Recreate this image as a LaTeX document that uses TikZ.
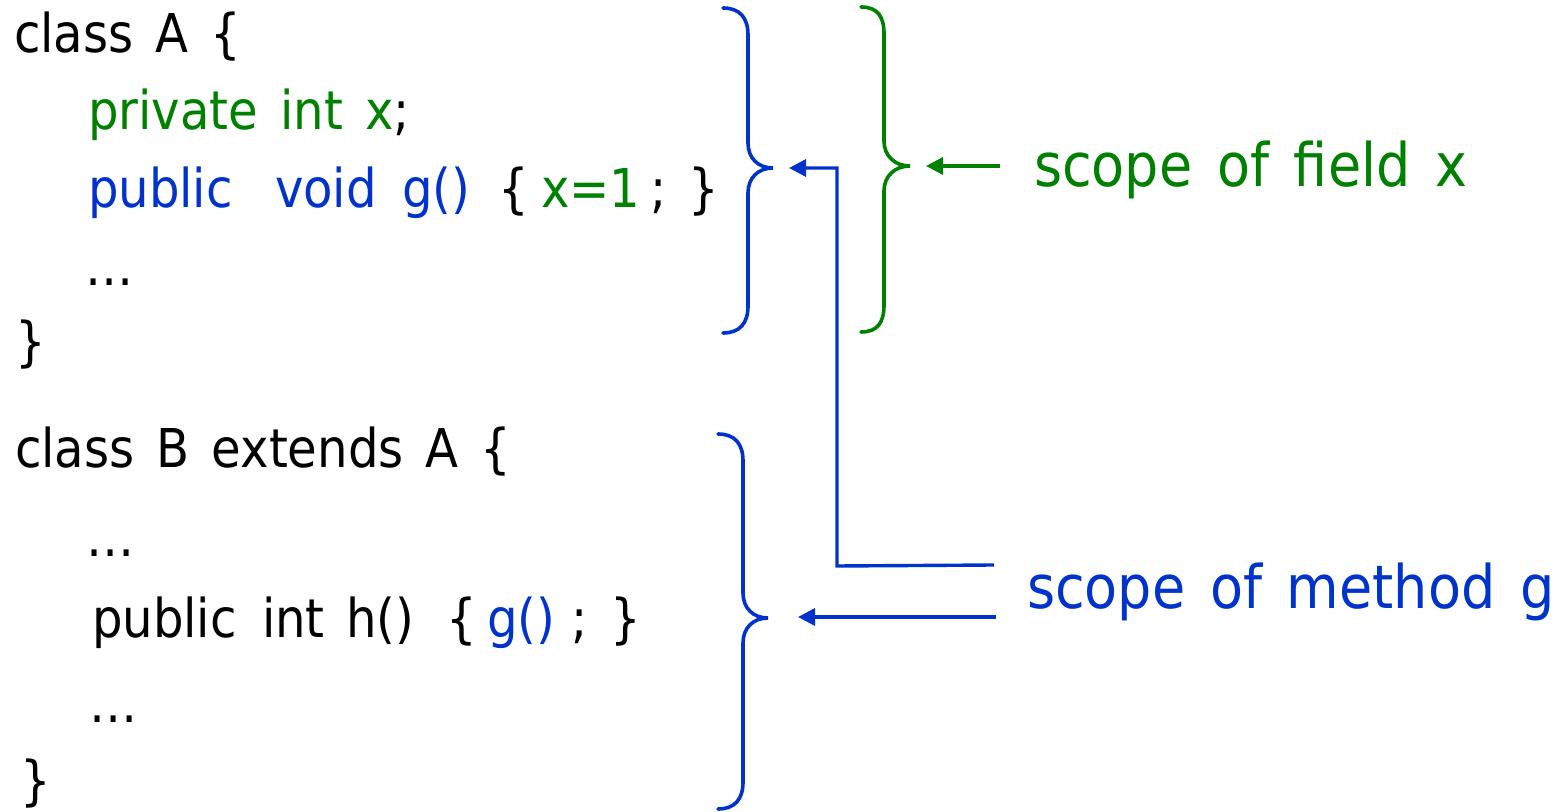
\documentclass[tikz,border=0pt]{standalone}
\usepackage{fontspec}
\usetikzlibrary{arrows.meta}
\newfontfamily\codefont[WordSpace=1.35]{DejaVu Sans Condensed}
\newfontfamily\notefont[WordSpace=1.45]{DejaVu Sans Condensed}
\definecolor{fieldgreen}{RGB}{0,128,0}
\definecolor{methodblue}{RGB}{0,51,204}

\begin{document}
\begin{tikzpicture}[x=0.5pt,y=-0.5pt,
  code/.style={anchor=base west,inner sep=0pt,outer sep=0pt,
    font=\codefont\fontsize{26.75}{32}\selectfont},
  note/.style={anchor=base west,inner sep=0pt,outer sep=0pt,
    font=\notefont\fontsize{30}{36}\selectfont},
  brace/.style={line width=1.8pt,line cap=round},
  link/.style={line width=1.7pt,-{Triangle[length=8.5pt,width=8.5pt]}},
]
\useasboundingbox (0,0) rectangle (1564,812);

% class A
\node[code] (a1) at (14,53) {class A \{};
\node[code,text=fieldgreen] (a2) at (88,130) {private int x\textcolor{black}{;}};
\node[code,text=methodblue] (a3p) at (88,208) {public};
\node[code,text=methodblue] (a3v) at (275,208) {void};
\node[code,text=methodblue] (a3g) at (402,208) {g()};
\node[code] (a3o) at (498,208) {\{};
\node[code,text=fieldgreen] (a3x) at (541,208) {x=1};
\node[code] (a3s) at (650,208) {;};
\node[code] (a3c) at (688,208) {\}};
\node[code] (a4) at (85,286) {…};
\node[code] (a5) at (16,361) {\}};

% class B
\node[code] (b1) at (15,468) {class B extends A \{};
\node[code] (b2) at (86,557) {…};
\node[code] (b3p) at (92,637) {public};
\node[code] (b3i) at (262,637) {int};
\node[code] (b3h) at (346,637) {h()};
\node[code] (b3o) at (446,637) {\{};
\node[code,text=methodblue] (b3g) at (487,637) {g()};
\node[code] (b3s) at (571,637) {;};
\node[code] (b3c) at (610,637) {\}};
\node[code] (b4) at (89,722) {…};
\node[code] (b5) at (20,799) {\}};

% labels
\node[note,text=fieldgreen] (fx) at (1034,187) {scope of field x};
\node[note,text=methodblue] (mg) at (1027,608) {scope of method g};

% braces
\draw[brace,methodblue] (723,8) .. controls (740,8) and (748,18) .. (748,35)
  -- (748,143) .. controls (748,158) and (758,168) .. (773,168)
  .. controls (758,168) and (748,178) .. (748,193)
  -- (748,306) .. controls (748,323) and (740,333) .. (723,333);
\draw[brace,fieldgreen] (861,7) .. controls (878,7) and (884,17) .. (884,34)
  -- (884,141) .. controls (884,156) and (895,166) .. (910,166)
  .. controls (895,166) and (884,176) .. (884,191)
  -- (884,305) .. controls (884,322) and (878,332) .. (861,332);
\draw[brace,methodblue] (718,434) .. controls (735,434) and (743,444) .. (743,461)
  -- (743,593) .. controls (743,608) and (753,618) .. (768,618)
  .. controls (753,618) and (743,628) .. (743,643)
  -- (743,782) .. controls (743,799) and (735,809) .. (718,809);

% connectors
\coordinate (fxOut) at (1000,166);
\coordinate (fxIn) at (926,166);
\coordinate (gOut) at (994,565);
\coordinate (gBend) at (837,566);
\coordinate (gIn) at (789,168);
\coordinate (hOut) at (996,617);
\coordinate (hIn) at (798,617);
\draw[link,fieldgreen] (fxOut) -- (fxIn);
\draw[link,methodblue] (gOut) -- (gBend) |- (gIn);
\draw[link,methodblue] (hOut) -- (hIn);
\end{tikzpicture}
\end{document}
